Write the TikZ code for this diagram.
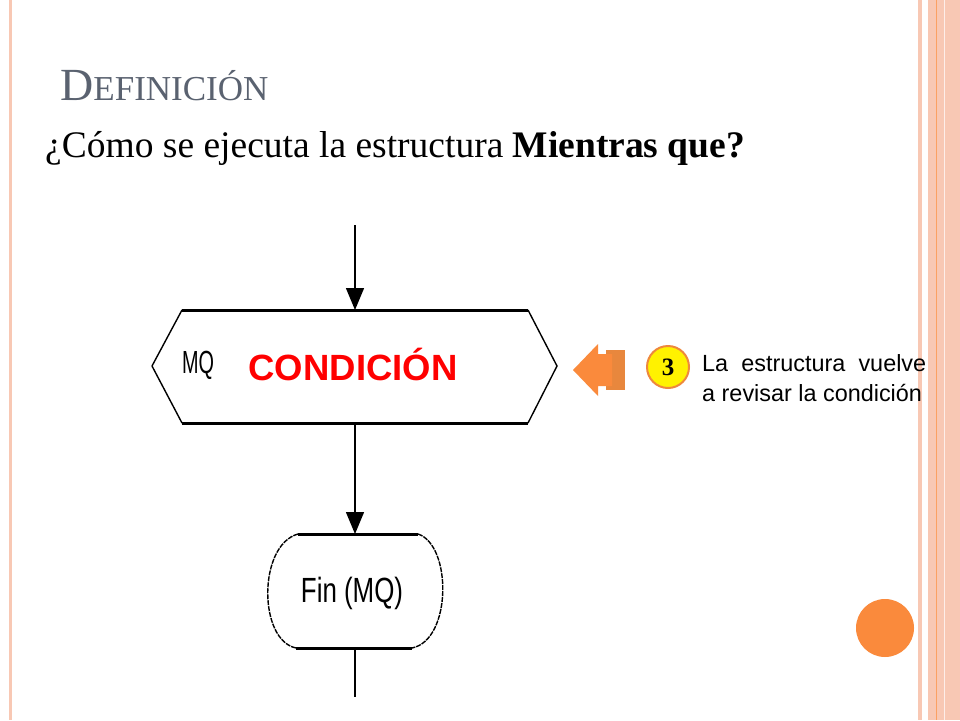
\documentclass[tikz,border=0pt]{standalone}
\usepackage{fontspec}
\setmainfont{Liberation Serif}
\newfontfamily\arial{Liberation Sans}
\usetikzlibrary{arrows.meta}
\definecolor{pinkb}{RGB}{248,200,180}
\definecolor{orng}{RGB}{250,138,60}
\definecolor{ttl}{RGB}{90,98,112}
\tikzset{flow/.style={line width=1.4pt},
  thick2/.style={line width=3pt},
  arr/.style={-{Triangle[length=22pt,width=18pt]},line width=1.4pt}}
\begin{document}
\begin{tikzpicture}[x=1pt,y=-1pt]
\useasboundingbox (0,0) rectangle (960,720);
\fill[white] (0,0) rectangle (960,720);
% side decorations
\fill[pinkb] (9,0) rectangle (12,720);
\fill[pinkb] (918,0) rectangle (922,720);
\fill[pinkb] (928,0) rectangle (960,720);
\draw[orng!80,line width=0.8pt] (936,0) -- (936,720);
\draw[white!70!pinkb,line width=0.8pt] (944,0) -- (944,720);
% titles
\node[anchor=base west,text=ttl,inner sep=0] (title) at (60,100) {\fontsize{46}{48}\selectfont D\fontsize{35}{38}\selectfont EFINICIÓN};
\node[anchor=base west,font=\fontsize{37.5}{40}\selectfont,inner sep=0] (sub) at (45,157) {¿Cómo se ejecuta la estructura \textbf{Mientras que?}};
% flowchart
\coordinate (in) at (355,225);
\coordinate (ht) at (355,310);
\coordinate (hb) at (355,423);
\coordinate (ft) at (355,534);
\coordinate (fb) at (355,648);
\coordinate (out) at (355,697);
\draw[flow] (152,366) -- (182,310) (528,310) -- (557,366) -- (528,423) (182,423) -- (152,366);
\draw[thick2] (182,310) -- (528,310) (182,423) -- (528,423);
\node[font=\arial\fontsize{32}{34}\selectfont,xscale=0.62,inner sep=0] (mq) at (198,365) {MQ};
\node[font=\arial\bfseries\fontsize{36.5}{38}\selectfont,text=red,inner sep=0] (cond) at (353,364) {CONDICIÓN};
\draw[arr] (in) -- (ht);
\draw[arr] (hb) -- (ft);
\draw[flow] (fb) -- (out);
% Fin box
\draw[flow,dash pattern=on 5pt off 1pt] (298,534) .. controls (258,545) and (258,640) .. (296,648);
\draw[flow,dash pattern=on 5pt off 1pt] (418,534) .. controls (452,545) and (452,640) .. (412,648);
\draw[thick2] (298,534) -- (418,534) (296,648) -- (412,648);
\node[font=\arial\fontsize{35}{37}\selectfont,xscale=0.74,inner sep=0] (fin) at (352,593) {Fin (MQ)};
% orange arrow
\fill[orng!70!brown] (606,350) rectangle (625,390);
\fill[orng] (573,370) -- (598,344) -- (598,354) -- (612,354) -- (612,386) -- (598,386) -- (598,396) -- cycle;
% badge
\node[circle,draw=orng!80!brown,line width=2pt,fill=yellow,minimum size=42pt,inner sep=0,font=\bfseries\fontsize{25}{26}\selectfont] (b3) at (668,367) {3};
\node[anchor=base west,font=\arial\fontsize{23.4}{26}\selectfont,inner sep=0] (txt1) at (702,371) {\makebox[224pt][s]{La estructura vuelve}};
\node[anchor=base west,font=\arial\fontsize{23.4}{26}\selectfont,inner sep=0] (txt2) at (702,401) {a revisar la condición};
\fill[orng] (885,628) circle (29);
\end{tikzpicture}
\end{document}
